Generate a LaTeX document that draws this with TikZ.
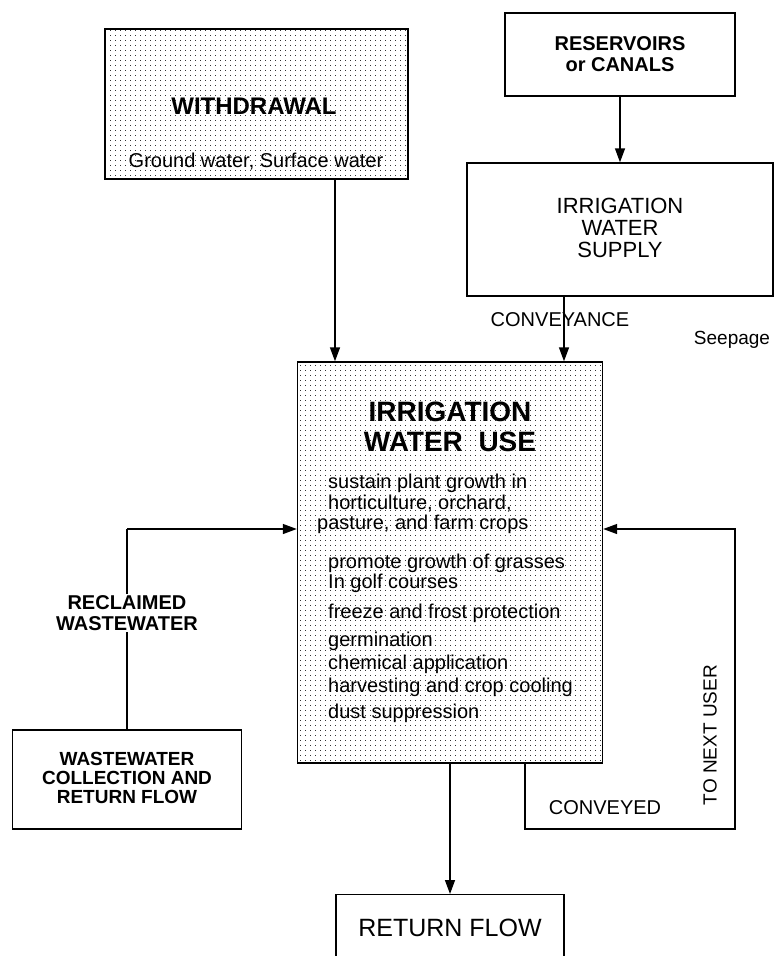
\documentclass[tikz,border=0pt]{standalone}
\usepackage{fontspec}
\setmainfont{Liberation Sans}
\usetikzlibrary{arrows.meta, patterns.meta}

\tikzdeclarepattern{
  name=stipple,
  type=uncolored,
  bounding box={(0pt,0pt) and (5pt,5pt)},
  tile size={(5pt,5pt)},
  code={
    \pgfpathrectangle{\pgfpointorigin}{\pgfpoint{1.1pt}{1.1pt}}
    \pgfusepath{fill}
  }
}

\begin{document}
\begin{tikzpicture}[
    x=1pt, y=-1pt,
    box/.style={rectangle, draw, line width=1.4pt, inner sep=0pt},
    dotbox/.style={box, pattern=stipple, pattern color=black!80},
    arrow/.style={-{Triangle[length=14pt, width=10pt]}, line width=1.4pt},
    line/.style={line width=1.4pt},
    bighead/.style={font=\fontsize{28}{30}\selectfont\bfseries, align=center, inner sep=0pt},
    head/.style={font=\fontsize{20}{21}\selectfont\bfseries, align=center, inner sep=1pt},
    title/.style={font=\fontsize{22}{22}\selectfont, align=center, inner sep=0pt},
    label/.style={font=\fontsize{20}{20}\selectfont, inner sep=0pt}
]
\useasboundingbox (0,0) rectangle (775,956);

% Boxes
\node[dotbox, minimum width=303pt, minimum height=150pt] (withdrawal) at (256.5,104) {};
\node[box, minimum width=230pt, minimum height=83pt] (reservoirs) at (620,54.5) {};
\node[box, minimum width=306pt, minimum height=133pt] (supply) at (620,229.5) {};
\node[dotbox, minimum width=305pt, minimum height=401pt] (use) at (450,562.5) {};
\node[box, minimum width=229pt, minimum height=99pt] (wastewater) at (127,779.5) {};
\node[box, minimum width=228pt, minimum height=100pt, anchor=north] (returnflow) at (450,894) {};

% Box texts
\node[bighead, font=\fontsize{24}{24}\selectfont\bfseries] (withdrawaltitle) at (254,106) {WITHDRAWAL};
\node[label] (sources) at (256,162) {Ground water, Surface water};
\node[head] (reservoirstitle) at (620,54) {RESERVOIRS\\or CANALS};
\node[title] (supplytitle) at (620,228) {IRRIGATION\\WATER\\SUPPLY};
\node[bighead] (usetitle) at (450,427) {IRRIGATION\\WATER\ \ USE};
\node[label, anchor=north west, align=left, font=\fontsize{20}{20.5}\selectfont] (uses) at (328,474) {%
sustain plant growth in\\
horticulture, orchard,\\
\hspace*{-11pt}pasture, and farm crops\\[18pt]
promote growth of grasses\\
In golf courses\\[9pt]
freeze and frost protection\\[8pt]
germination\\[2pt]
chemical application\\[3pt]
harvesting and crop cooling\\[5pt]
dust suppression};
\node[head, font=\fontsize{19}{19}\selectfont\bfseries] (wastewatertitle) at (127,778) {WASTEWATER\\COLLECTION AND\\RETURN FLOW};
\node[title, font=\fontsize{25}{25}\selectfont] (returnflowtitle) at (450,928) {RETURN FLOW};

% Labels
\node[head] (reclaimed) at (127,613) {RECLAIMED\\WASTEWATER};
\node[label] (conveyance) at (560,320) {CONVEYANCE};
\node[label, font=\fontsize{19}{19}\selectfont] (seepage) at (732,340) {Seepage};
\node[label] (conveyed) at (605,808) {CONVEYED};
\node[label, font=\fontsize{19}{19}\selectfont, rotate=90] (nextuser) at (710,735) {TO NEXT USER};

% Turning points
\coordinate (withdrawalx) at (335,0);
\coordinate (conveyx) at (564,0);
\coordinate (reclturn) at (127,529);
\coordinate (loopsw) at (525,829);
\coordinate (loopse) at (735,829);
\coordinate (loopne) at (735,529);

% Arrows
\draw[arrow] (withdrawal.south -| withdrawalx) -- (use.north -| withdrawalx);
\draw[arrow] (reservoirs) -- (supply);
\draw[arrow] (supply.south -| conveyx) -- (use.north -| conveyx);
\draw[arrow] (use) -- (returnflow);

% Reclaimed wastewater
\draw[line] (wastewater.north) -- (reclaimed.south);
\draw[line] (reclaimed.north) -- (reclturn);
\draw[arrow] (reclturn) -- (reclturn -| use.west);

% To next user
\draw[arrow] (use.south -| loopsw) -- (loopsw) -- (loopse) -- (loopne) -- (loopne -| use.east);

\end{tikzpicture}
\end{document}
